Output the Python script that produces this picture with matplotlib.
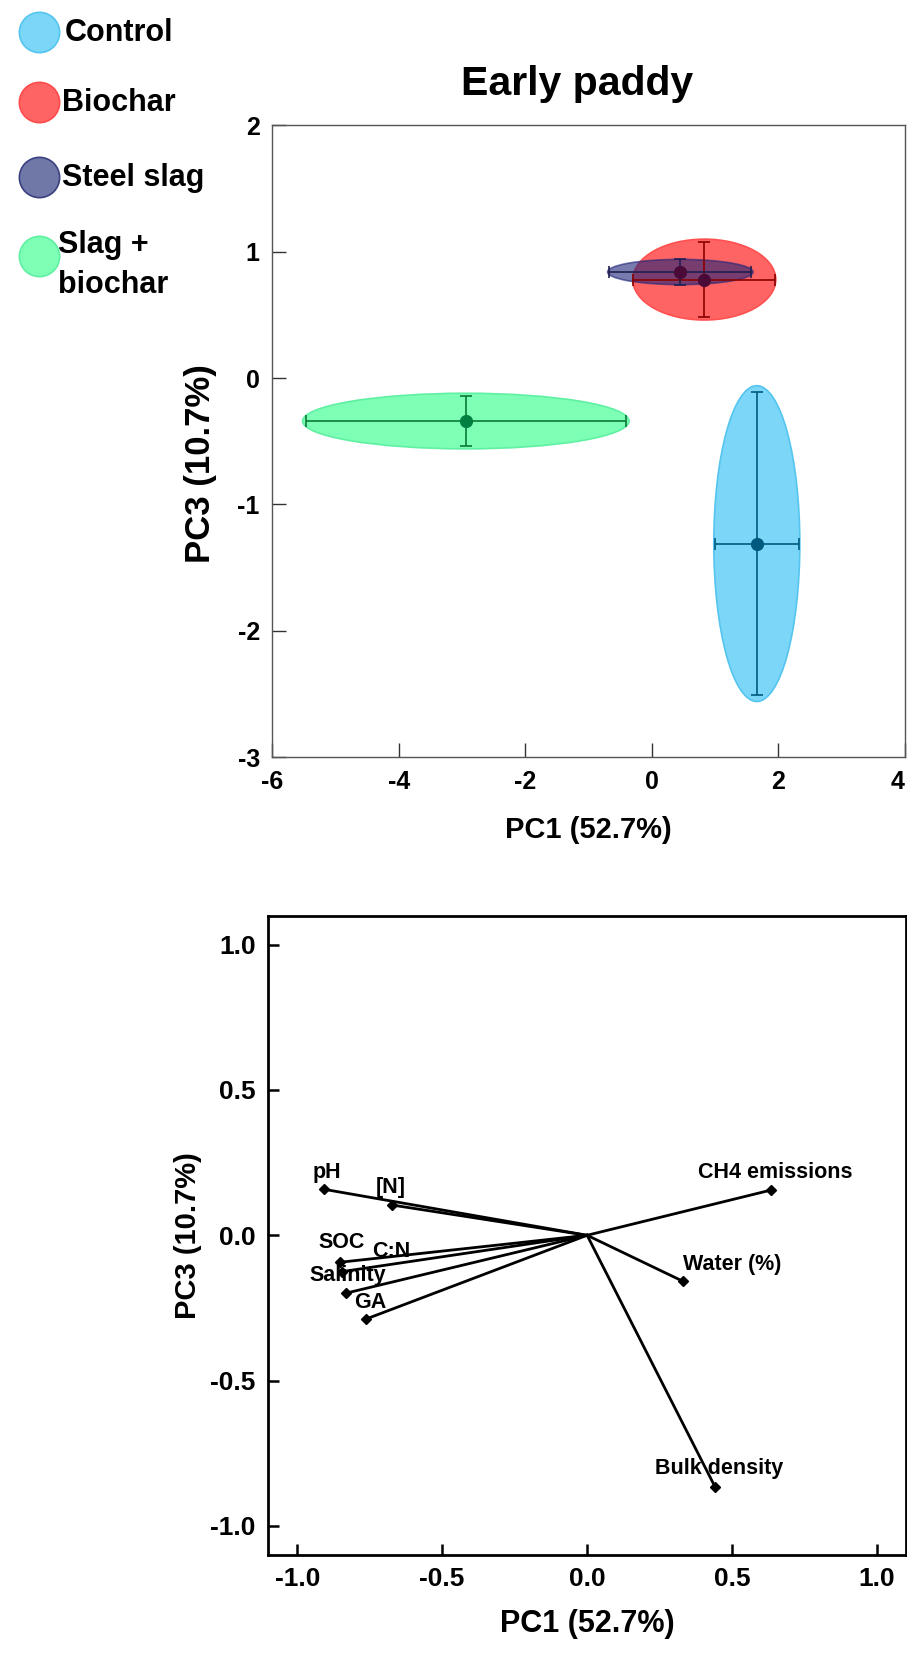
import numpy as np
import matplotlib.pyplot as plt
from matplotlib.patches import Ellipse
from matplotlib.lines import Line2D

plt.rcParams['font.family'] = ['Liberation Sans', 'DejaVu Sans']
plt.rcParams['font.weight'] = 'bold'
plt.rcParams['axes.unicode_minus'] = False

# treatment scores (PC1 / PC3), error bars and confidence ellipses
groups = ['Control', 'Biochar', 'Steel slag', 'Slag +\nbiochar']
pc1_mean = [1.66, 0.83, 0.45, -2.94]
pc3_mean = [-1.31, 0.78, 0.84, -0.34]
pc1_err = [0.66, 1.12, 1.12, 2.53]
pc3_err = [1.20, 0.30, 0.10, 0.20]
ell_pc1 = [0.68, 1.13, 1.15, 2.58]
ell_pc3 = [1.25, 0.32, 0.10, 0.22]

fill_cols = ['#7cd6f7', '#ff6464', '#1e2478', '#7dffb5']
edge_cols = ['#55c5ef', '#ff5050', '#1e2478', '#60f0a4']
fill_alpha = [1.0, 1.0, 0.6, 1.0]
bar_cols = ['#005a80', '#8b0000', '#1e1e50', '#0a7a3a']
dot_cols = ['#005a80', '#4a0a38', '#4a0a38', '#008040']
legend_cols = ['#7cd6f7', '#ff6464', '#7078a8', '#7dffb5']
legend_edges = ['#55c5ef', '#ff4a4a', '#3a4080', '#60f0a4']

# loadings
variables = ['pH', '[N]', 'SOC', 'C:N', 'Salinity', 'GA',
             'CH4 emissions', 'Water (%)', 'Bulk density']
load_pc1 = [-0.906, -0.672, -0.854, -0.845, -0.831, -0.762, 0.636, 0.330, 0.441]
load_pc3 = [0.158, 0.104, -0.093, -0.125, -0.199, -0.288, 0.156, -0.158, -0.865]
# label anchors (as placed in the original)
lab_pc1 = [-0.897, -0.676, -0.848, -0.674, -0.826, -0.748, 0.649, 0.500, 0.454]
lab_pc3 = [0.215, 0.163, -0.026, -0.055, -0.137, -0.230, 0.217, -0.100, -0.804]

fig = plt.figure(figsize=(9.07, 16.53), dpi=100)

# ---------- top: scores ----------
ax1 = fig.add_axes([0.3002, 0.5420, 0.6974, 0.3821])
for i in range(len(groups)):
    e = Ellipse((pc1_mean[i], pc3_mean[i]), 2 * ell_pc1[i], 2 * ell_pc3[i],
                facecolor=fill_cols[i], edgecolor=edge_cols[i], alpha=fill_alpha[i],
                lw=1.2, zorder=1 + i * 0.1)
    ax1.add_patch(e)
for i in range(len(groups)):
    ax1.errorbar(pc1_mean[i], pc3_mean[i], xerr=pc1_err[i], yerr=pc3_err[i],
                 fmt='none', ecolor=bar_cols[i], elinewidth=1.2, capsize=4, capthick=1.2, zorder=3)
    ax1.plot(pc1_mean[i], pc3_mean[i], 'o', color=dot_cols[i], ms=8.5, zorder=4)

ax1.set_xlim(-6, 4)
ax1.set_ylim(-3, 2)
ax1.set_xticks([-6, -4, -2, 0, 2, 4])
ax1.set_yticks([-3, -2, -1, 0, 1, 2])
for s in ax1.spines.values():
    s.set_color('#555555')
    s.set_linewidth(1.0)
ax1.tick_params(direction='in', length=10, width=1.0, color='#333333',
                labelsize=18, pad=9)
ax1.get_xticklabels()[-1].set_ha('right')
ax1.set_xlabel('PC1 (52.7%)', fontsize=21, fontweight='bold')
ax1.set_ylabel('PC3 (10.7%)', fontsize=25, fontweight='bold')
ax1.xaxis.set_label_coords(0.5, -0.1156)
ax1.xaxis.label.set_va('center')
ax1.yaxis.set_label_coords(-0.114, 0.464)
ax1.yaxis.label.set_va('center')

fig.text(577 / 907, 1 - 84 / 1653, 'Early paddy', fontsize=29.5, fontweight='bold',
         ha='center', va='center')

# legend
leg_y = [32, 102, 177, 256]
leg_tx = [65, 62, 62, 58]
for i, g in enumerate(groups):
    fig.add_artist(Line2D([39 / 907], [1 - leg_y[i] / 1653], marker='o', ms=29,
                          markerfacecolor=legend_cols[i], markeredgecolor=legend_edges[i],
                          markeredgewidth=1.2, linestyle='none', transform=fig.transFigure))
    lines = g.split('\n')
    if len(lines) == 1:
        fig.text(leg_tx[i] / 907, 1 - (leg_y[i] + 1) / 1653, g, fontsize=22,
                 fontweight='bold', ha='left', va='center')
    else:
        # two-line entry: first line sits above the marker, second below
        for k, line in enumerate(lines):
            fig.text(leg_tx[i] / 907, 1 - (245 + 40 * k) / 1653, line, fontsize=22,
                     fontweight='bold', ha='left', va='center')

# ---------- bottom: loadings ----------
ax2 = fig.add_axes([0.2957, 0.0593, 0.7032, 0.3868])
for i in range(len(variables)):
    ax2.plot([0, load_pc1[i]], [0, load_pc3[i]], color='black', lw=2)
    ax2.plot(load_pc1[i], load_pc3[i], 'D', color='black', ms=5)
    ax2.text(lab_pc1[i], lab_pc3[i], variables[i], fontsize=15.5, fontweight='bold',
             ha='center', va='center')

ax2.set_xlim(-1.1, 1.1)
ax2.set_ylim(-1.1, 1.1)
ticks = [-1.0, -0.5, 0.0, 0.5, 1.0]
ax2.set_xticks(ticks)
ax2.set_yticks(ticks)
ax2.set_xticklabels([f'{t:.1f}' for t in ticks])
ax2.set_yticklabels([f'{t:.1f}' for t in ticks])
for s in ax2.spines.values():
    s.set_color('black')
    s.set_linewidth(2)
ax2.tick_params(direction='in', length=8, width=1.8, labelsize=19, pad=9)
ax2.set_xlabel('PC1 (52.7%)', fontsize=22, fontweight='bold')
ax2.set_ylabel('PC3 (10.7%)', fontsize=21, fontweight='bold')
ax2.xaxis.set_label_coords(0.5, -0.108)
ax2.xaxis.label.set_va('center')
ax2.yaxis.set_label_coords(-0.1255, 0.5)
ax2.yaxis.label.set_va('center')

fig.savefig('out.png', dpi=100)
